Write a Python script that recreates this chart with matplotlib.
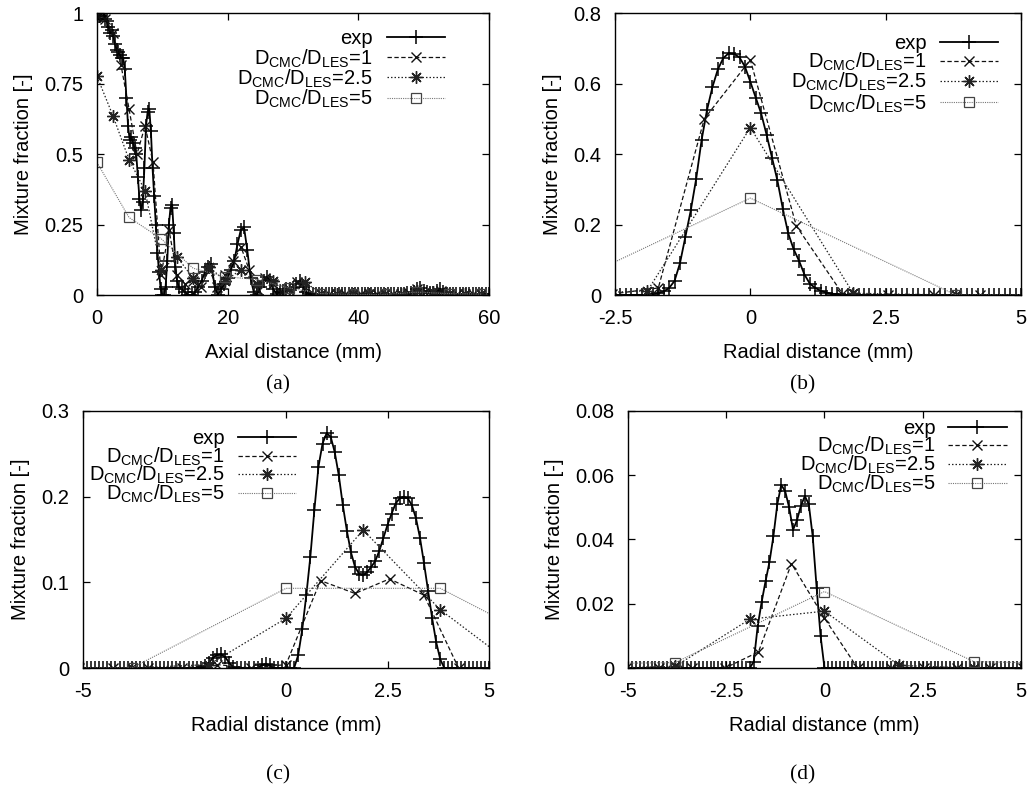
import numpy as np
import matplotlib
matplotlib.use("Agg")
import matplotlib.pyplot as plt
import matplotlib.transforms as mtransforms

plt.rcParams['font.family'] = ['Liberation Sans', 'DejaVu Sans']
plt.rcParams['mathtext.fontset'] = 'custom'
plt.rcParams['mathtext.rm'] = 'Liberation Sans'
plt.rcParams['mathtext.default'] = 'regular'

# ---- data ----
# (a) axial profile: finer sampling up to 12.5 mm, then 0.5 mm
exp_a_x = np.concatenate([np.linspace(0, 12.5, 51), np.linspace(13, 60, 95)])
exp_a_y = [0.98, 0.99, 0.99, 1.00, 1.00, 0.98, 0.97, 0.95, 0.93, 0.94,
           0.92, 0.89, 0.87, 0.86, 0.85, 0.84, 0.84, 0.80, 0.70, 0.60,
           0.55, 0.56, 0.54, 0.52, 0.50, 0.42, 0.34, 0.30, 0.33, 0.45,
           0.60, 0.65, 0.66, 0.58, 0.45, 0.35, 0.25, 0.15, 0.08, 0.02,
           0.00, 0.00, 0.03, 0.12, 0.25, 0.31, 0.32, 0.22, 0.10, 0.05,
           0.03,
           0.02, 0.01, 0.00, 0.00,
           0.01, 0.03, 0.05, 0.08, 0.10, 0.11, 0.03, 0.00, 0.02, 0.04,
           0.06, 0.09, 0.12, 0.18, 0.23, 0.24, 0.16, 0.06, 0.01, 0.00,
           0.03, 0.05, 0.065, 0.05, 0.02, 0.005, 0.01, 0.015, 0.02, 0.02,
           0.025, 0.04, 0.05, 0.03, 0.01, 0.005,
           0.004, 0.003, 0.004, 0.005, 0.003, 0.004, 0.003, 0.004, 0.003, 0.003,
           0.004, 0.003, 0.004, 0.003, 0.003, 0.004, 0.003, 0.004, 0.003, 0.003,
           0.004, 0.003, 0.004, 0.003, 0.003, 0.004, 0.003, 0.004, 0.005, 0.006,
           0.008,
           0.012, 0.02, 0.026, 0.016, 0.01, 0.006, 0.008, 0.014, 0.02, 0.01, 0.005,
           0.004, 0.003, 0.004, 0.003, 0.004, 0.003, 0.004, 0.003, 0.004, 0.003,
           0.004, 0.003, 0.004]
d1_a_x = np.linspace(0, 58.8, 49)
d1_a_y = [0.99, 0.98, 0.93, 0.815, 0.66, 0.50, 0.60, 0.47, 0.07, 0.23,
          0.07, 0.04, 0.05, 0.03, 0.09, 0.03, 0.07, 0.12, 0.17, 0.09,
          0.02, 0.06, 0.04, 0.01, 0.02, 0.045, 0.03, 0.005,
          0.003, 0.003, 0.003, 0.003, 0.003, 0.003, 0.003, 0.003, 0.003, 0.003, 0.003,
          0.006, 0.02, 0.012, 0.006, 0.015, 0.005, 0.003, 0.003, 0.003, 0.003]
d25_a_x = np.linspace(0, 58.8, 25)
d25_a_y = [0.775, 0.635, 0.48, 0.37, 0.09, 0.135, 0.06, 0.10, 0.05, 0.09,
           0.04, 0.05, 0.02, 0.045, 0.005, 0.003, 0.003, 0.003, 0.003, 0.004,
           0.015, 0.01, 0.005, 0.003, 0.003]
d5_a_x = np.linspace(0, 58.8, 13)
d5_a_y = [0.47, 0.275, 0.20, 0.095, 0.065, 0.055, 0.025, 0.005, 0.002, 0.002,
          0.01, 0.005, 0.003]

# (b) radial profile
exp_b_x = np.linspace(-2.5, 5.0, 76)
exp_b_y = [0.0] * 6 + [
    0.001, 0.003, 0.005, 0.01, 0.02, 0.04, 0.09, 0.165, 0.24, 0.33,
    0.44, 0.525, 0.59, 0.64, 0.672, 0.686, 0.684, 0.674, 0.648, 0.605,
    0.56, 0.515, 0.455, 0.39, 0.325, 0.245, 0.175, 0.13, 0.097, 0.058,
    0.032, 0.02, 0.012, 0.007, 0.004, 0.002, 0.001] + [0.0] * 33
d1_b_x = [-2.55, -1.7, -0.85, 0.0, 0.85, 1.7, 2.55, 3.4, 4.25, 5.1]
d1_b_y = [0.003, 0.02, 0.50, 0.667, 0.196, 0.004, 0.0, 0.0, 0.0, 0.0]
d25_b_x = [-3.8, -1.9, 0.0, 1.9, 3.8, 5.7]
d25_b_y = [0.0, 0.012, 0.475, 0.005, 0.0, 0.0]
d5_b_x = [-3.8, 0.0, 3.8, 7.6]
d5_b_y = [0.0, 0.275, 0.0, 0.0]

# (c) radial profile
exp_c_x = np.linspace(-5, 5, 101)
exp_c_y = [0.0] * 30 + [
    0.002, 0.006, 0.012, 0.015, 0.016, 0.013, 0.006, 0.001, 0.0] + [0.0] * 5 + [
    0.003, 0.005, 0.003, 0.0] + [0.0] * 5 + [
    0.015, 0.045, 0.085, 0.13, 0.185, 0.235, 0.262, 0.274,
    0.27, 0.252, 0.225, 0.19, 0.16, 0.135, 0.118, 0.11, 0.108, 0.112,
    0.118, 0.125, 0.137, 0.152, 0.167, 0.18, 0.192, 0.198, 0.2, 0.198,
    0.19, 0.175, 0.152, 0.122, 0.09, 0.058, 0.03, 0.01, 0.0] + [0.0] * 11
d1_c_x = [-5.1, -4.25, -3.4, -2.55, -1.7, -0.85, 0.0, 0.85, 1.7, 2.55, 3.4, 4.25, 5.1]
d1_c_y = [0.0, 0.0, 0.0, 0.0, 0.004, 0.0, 0.004, 0.102, 0.087, 0.104, 0.085, 0.0, 0.0]
d25_c_x = [-5.7, -3.8, -1.9, 0.0, 1.9, 3.8, 5.7]
d25_c_y = [0.0, 0.0, 0.004, 0.058, 0.161, 0.068, 0.0]
d5_c_x = [-7.6, -3.8, 0.0, 3.8, 7.6]
d5_c_y = [0.0, 0.0, 0.093, 0.093, 0.0]

# (d) radial profile
exp_d_x = np.linspace(-5, 5, 101)
exp_d_y = [0.0] * 32 + [
    0.002, 0.013, 0.0205, 0.027, 0.033, 0.041, 0.051, 0.057, 0.055, 0.050,
    0.043, 0.046, 0.0505, 0.0535, 0.051, 0.041, 0.025, 0.01, 0.0] + [0.0] * 50
d1_d_x = [-5.05, -4.2, -3.37, -2.53, -1.68, -0.84, 0.0, 0.84, 1.68, 2.52, 3.36, 4.2, 5.05]
d1_d_y = [0.0, 0.0, 0.0, 0.0, 0.005, 0.0325, 0.0155, 0.0, 0.0, 0.0, 0.0, 0.0, 0.0]
d25_d_x = [-5.7, -3.8, -1.9, 0.0, 1.9, 3.8, 5.7]
d25_d_y = [0.0, 0.0005, 0.0152, 0.0177, 0.0008, 0.0, 0.0]
d5_d_x = [-7.6, -3.8, 0.0, 3.8, 7.6]
d5_d_y = [0.001, 0.0017, 0.0238, 0.002, 0.001]

labels = ['exp', r'D$_{\rm CMC}$/D$_{\rm LES}$=1',
          r'D$_{\rm CMC}$/D$_{\rm LES}$=2.5', r'D$_{\rm CMC}$/D$_{\rm LES}$=5']

# ---- styles ----
FS = 14.5
styles = [
    dict(color='black', lw=1.3, ls='-', marker='+', ms=10, mew=1.1),
    dict(color='#111111', lw=0.9, ls=(0, (3.5, 2)), marker='x', ms=7, mew=1.0),
    dict(color='#222222', lw=0.9, ls=(0, (1.2, 1.6)), marker=(8, 2, 0), ms=9, mew=1.0),
    dict(color='#777777', lw=0.8, ls=(0, (1, 1)), marker='s', ms=7, mew=0.9,
         mfc='none', mec='#444444'),
]

fig = plt.figure(figsize=(10.31, 7.98), dpi=100)


def panel(rect, series, xlim, ylim, xticks, xtl, yticks, ytl, xlabel, keypos):
    ax = fig.add_axes(rect)
    for (x, y), st in zip(series, styles):
        ax.plot(x, y, **st)
    ax.set_xlim(*xlim)
    ax.set_ylim(*ylim)
    ax.set_xticks(xticks)
    ax.set_xticklabels(xtl)
    ax.set_yticks(yticks)
    ax.set_yticklabels(ytl)
    ax.tick_params(direction='in', top=True, right=True, length=5, width=0.9,
                   labelsize=FS, pad=10)
    for s in ax.spines.values():
        s.set_linewidth(1.0)
    ax.set_xlabel(xlabel, fontsize=FS, labelpad=11)
    ax.set_ylabel('Mixture fraction [-]', fontsize=FS, labelpad=8)
    # gnuplot-like key: right-aligned text, sample line with marker to the right
    tx, lx0, lx1, rows = keypos
    trans = mtransforms.offset_copy(ax.transAxes, fig=fig, y=-5.2, units='points')
    for lab, st, yk in zip(labels, styles, rows):
        ax.text(tx, yk, lab, transform=trans, ha='right', va='baseline', fontsize=FS)
        line_st = {k: v for k, v in st.items() if k in ('color', 'lw', 'ls')}
        ax.plot([lx0, lx1], [yk, yk], transform=ax.transAxes, clip_on=False, **line_st)
        mk_st = {k: v for k, v in st.items() if k not in ('ls', 'lw')}
        ax.plot([(lx0 + lx1) / 2], [yk], transform=ax.transAxes, clip_on=False,
                ls='none', **mk_st)
    return ax


panel([0.0941, 0.6303, 0.3802, 0.3534],
      [(exp_a_x, exp_a_y), (d1_a_x, d1_a_y), (d25_a_x, d25_a_y), (d5_a_x, d5_a_y)],
      (0, 60), (0, 1), [0, 20, 40, 60], ['0', '20', '40', '60'],
      [0, 0.25, 0.5, 0.75, 1], ['0', '0.25', '0.5', '0.75', '1'],
      'Axial distance (mm)', (0.704, 0.74, 0.888, [0.915, 0.844, 0.773, 0.699]))

panel([0.5965, 0.6303, 0.3938, 0.3534],
      [(exp_b_x, exp_b_y), (d1_b_x, d1_b_y), (d25_b_x, d25_b_y), (d5_b_x, d5_b_y)],
      (-2.5, 5), (0, 0.8), [-2.5, 0, 2.5, 5], ['-2.5', '0', '2.5', '5'],
      [0, 0.2, 0.4, 0.6, 0.8], ['0', '0.2', '0.4', '0.6', '0.8'],
      'Radial distance (mm)', (0.768, 0.80, 0.943, [0.897, 0.83, 0.759, 0.684]))

panel([0.0805, 0.1629, 0.3938, 0.3221],
      [(exp_c_x, exp_c_y), (d1_c_x, d1_c_y), (d25_c_x, d25_c_y), (d5_c_x, d5_c_y)],
      (-5, 5), (0, 0.3), [-5, 0, 2.5, 5], ['-5', '0', '2.5', '5'],
      [0, 0.1, 0.2, 0.3], ['0', '0.1', '0.2', '0.3'],
      'Radial distance (mm)', (0.35, 0.382, 0.525, [0.899, 0.825, 0.755, 0.681]))

panel([0.6091, 0.1629, 0.3812, 0.3221],
      [(exp_d_x, exp_d_y), (d1_d_x, d1_d_y), (d25_d_x, d25_d_y), (d5_d_x, d5_d_y)],
      (-5, 5), (0, 0.08), [-5, -2.5, 0, 2.5, 5], ['-5', '-2.5', '0', '2.5', '5'],
      [0, 0.02, 0.04, 0.06, 0.08], ['0', '0.02', '0.04', '0.06', '0.08'],
      'Radial distance (mm)', (0.784, 0.814, 0.964, [0.938, 0.868, 0.794, 0.72]))

# sub-figure captions
for lab, (x, y) in zip(['(a)', '(b)', '(c)', '(d)'],
                       [(278, 385), (803, 385), (278, 775), (803, 775)]):
    fig.text(x / 1031, 1 - y / 798, lab, ha='center', va='center', fontsize=15.5,
             family='Liberation Serif')

fig.savefig('out.png', dpi=100)
